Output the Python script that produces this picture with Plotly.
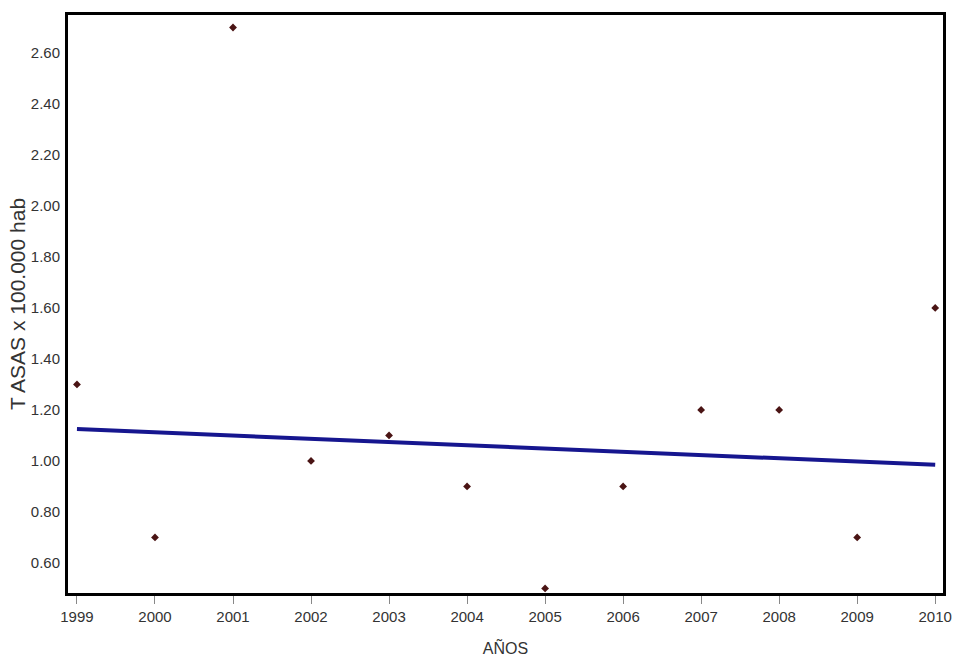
import plotly.graph_objects as go

# Annual rates per 100,000 inhabitants
years = [1999, 2000, 2001, 2002, 2003, 2004, 2005, 2006, 2007, 2008, 2009, 2010]
rates = [1.30, 0.70, 2.70, 1.00, 1.10, 0.90, 0.50, 0.90, 1.20, 1.20, 0.70, 1.60]

# Fitted trend line (start and end of the period)
trend_years = [1999, 2010]
trend_values = [1.125, 0.985]

y_ticks = [0.60, 0.80, 1.00, 1.20, 1.40, 1.60, 1.80, 2.00, 2.20, 2.40, 2.60]

FONT = "Liberation Sans, Arial, sans-serif"
TEXT = "#333333"

fig = go.Figure()
fig.add_trace(go.Scatter(
    x=trend_years, y=trend_values, mode="lines",
    line=dict(color="#16168f", width=4),
    showlegend=False, hoverinfo="skip",
))
fig.add_trace(go.Scatter(
    x=years, y=rates, mode="markers",
    marker=dict(symbol="diamond", size=6, color="#4a1414"),
    showlegend=False,
))

fig.update_layout(
    width=953, height=657,
    margin=dict(l=68, r=10, t=15, b=64),
    paper_bgcolor="white", plot_bgcolor="white",
    font=dict(family=FONT, size=15, color=TEXT),
)
fig.update_xaxes(
    range=[1998.885, 2010.10], automargin=False,
    tickmode="array", tickvals=years, ticktext=[str(y) for y in years],
    tickfont=dict(size=15, color=TEXT),
    ticks="outside", ticklen=8, tickwidth=1, tickcolor="#888888",
    showline=True, linecolor="black", linewidth=3, mirror=True,
    showgrid=False, zeroline=False,
    title=dict(text="AÑOS", font=dict(family=FONT, size=16, color=TEXT), standoff=19),
)
fig.update_yaxes(
    range=[0.482, 2.749], automargin=False,
    tickmode="array", tickvals=y_ticks, ticktext=[f"{v:.2f}" for v in y_ticks],
    tickfont=dict(size=15, color=TEXT),
    ticks="", ticklabelstandoff=2,
    showline=True, linecolor="black", linewidth=3, mirror=True,
    showgrid=False, zeroline=False,
    title=dict(text="T ASAS x 100.000 hab", font=dict(family=FONT, size=21, color=TEXT), standoff=0),
)

fig.write_html("out.html")
